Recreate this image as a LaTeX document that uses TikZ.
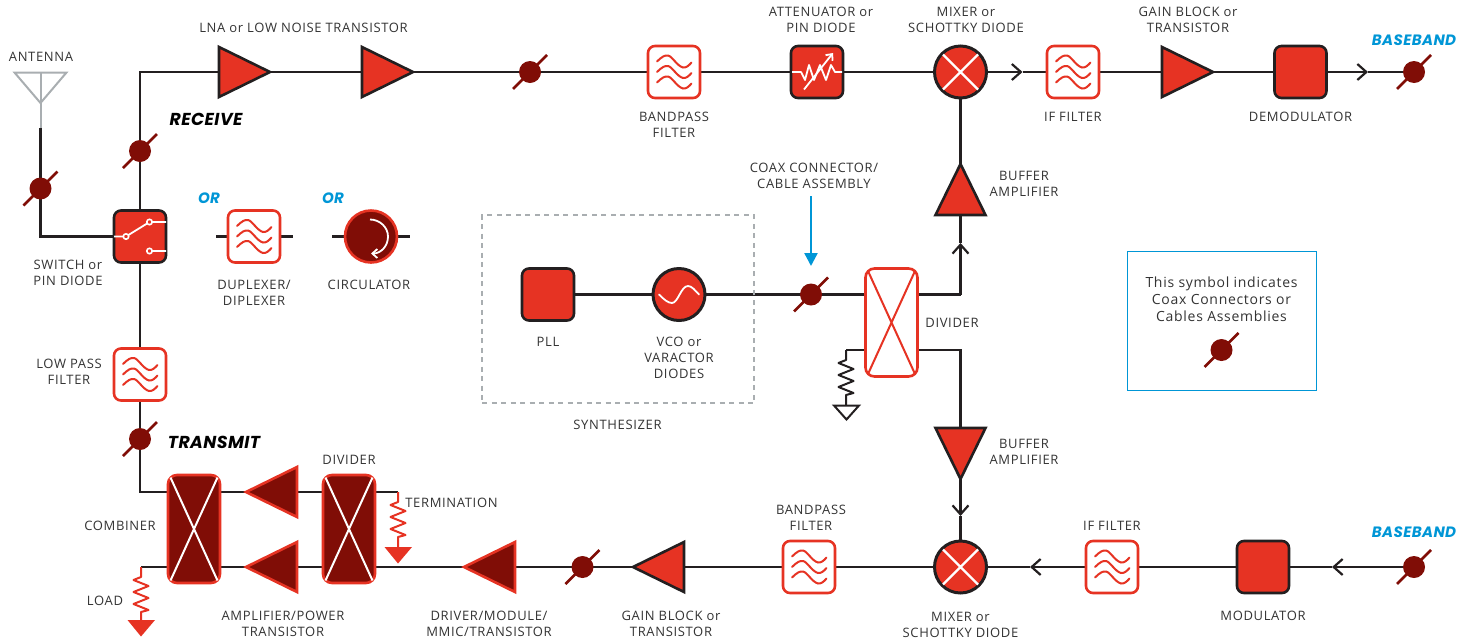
\documentclass[tikz,border=0pt]{standalone}
\usepackage{fontspec}
\setmainfont{Open Sans}[LetterSpace=5]
\newfontfamily\headfont{Poppins}[LetterSpace=2.5]
\usetikzlibrary{shapes.geometric,arrows.meta,backgrounds,calc}
\definecolor{ink}{HTML}{231F20}
\definecolor{txt}{HTML}{333333}
\definecolor{rfred}{HTML}{E63323}
\definecolor{dred}{HTML}{800D06}
\definecolor{rfblue}{HTML}{0096D6}
\definecolor{antgray}{HTML}{A9AEB1}
\tikzset{
  x=1pt,y=-1pt,
  every node/.style={inner sep=0pt,outer sep=0pt},
  lbl/.style={text=txt,align=center,font=\fontsize{13}{16}\selectfont},
  rx/.style={text=black,font=\headfont\fontsize{17.3}{18}\selectfont\bfseries\itshape},
  bb/.style={text=rfblue,font=\headfont\fontsize{15}{16}\selectfont\bfseries\itshape},
  wire/.style={draw=ink,line width=2.2pt},
  chev/.style={wire,-{Straight Barb[length=9pt,width=16pt,line width=2.2pt]}},
  boxbase/.style={rectangle,rounded corners=7pt,minimum size=52pt,line width=2.6pt},
  darkbox/.style={boxbase,draw=ink,fill=rfred},
  filtbox/.style={boxbase,draw=rfred,fill=white},
  rnd/.style={circle,minimum size=52pt,line width=3pt,draw=ink,fill=rfred},
  coax/.style={circle,minimum size=22pt,fill=dred},
  amp/.style={isosceles triangle,isosceles triangle apex angle=53,isosceles triangle stretches,minimum height=51pt,minimum width=50pt,line width=2.6pt,draw=ink,fill=rfred,anchor=apex},
  damp/.style={amp,draw=rfred,fill=dred},
  tallbox/.style={rectangle,rounded corners=9pt,minimum width=52pt,minimum height=108pt,line width=2.6pt}
}
\newcommand{\waves}[2]{\begin{scope}[shift={(#1,#2)}]
  \foreach \d in {-10.5,0,10.5}
    \draw[rfred,line width=2pt,line cap=round,yshift=-\d pt] (-17,0) .. controls (-12,-5) and (-9,-6.5) .. (-6,-6) .. controls (-2,-5.5) and (3,4.5) .. (9,6) .. controls (12,6.5) and (15,4) .. (17.5,1);
\end{scope}}
\newcommand{\filt}[3]{\node[filtbox] (#1) at (#2,#3) {};\waves{#2}{#3}}
\newcommand{\cx}[3]{\node[coax] (#1) at (#2,#3) {};\draw[dred,line width=2.6pt] ($(#2,#3)+(-17,17)$) -- ($(#2,#3)+(17,-17)$);}
\newcommand{\mixer}[3]{\node[rnd] (#1) at (#2,#3) {};
  \begin{scope}[shift={(#2,#3)}]\draw[white,line width=2.4pt] (-17.5,-17.5) -- (17.5,17.5) (-17.5,17.5) -- (17.5,-17.5);\end{scope}}
\newcommand{\tallcross}[5]{\node[tallbox,draw=rfred,fill=#4] (#1) at (#2,#3) {};
  \begin{scope}[shift={(#2,#3)}]\draw[#5,line width=2pt] (-23.5,-51.5) -- (23.5,51.5) (-23.5,51.5) -- (23.5,-51.5);\end{scope}}
\newcommand{\resist}[4]{\begin{scope}[shift={(#2,#3)}]
  \coordinate (#1) at (0,0);
  \draw[#4,line width=2pt,line join=round] (0,0) -- (0,10) -- (-7.5,13) -- (7.5,19) -- (-7.5,25) -- (7.5,31) -- (-7.5,37) -- (7.5,43) -- (0,45) -- (0,55);
\end{scope}}
\begin{document}
\begin{tikzpicture}
\useasboundingbox (0,0) rectangle (1469,638);
% ---- nodes: top row
\draw[antgray,line width=2pt,line join=miter] (14.5,72.5) -- (66.5,72.5) -- (40.5,103) -- cycle;
\draw[antgray,line width=2pt] (40.5,72.5) -- (40.5,128);
\coordinate (anttop) at (40.5,128);
\cx{cxa}{40.5}{188.5}
\node[darkbox] (sw) at (140,236.5) {};
\begin{scope}[shift={(140,236.5)}]
  \draw[white,line width=1.8pt] (-26,0) -- (-14,0) (-14,0) -- (9.5,-14.5) (9.5,-14.5) -- (26,-14.5) (9.5,14.5) -- (26,14.5);
  \foreach \p in {(-14,0),(9.5,-14.5),(9.5,14.5)} \draw[white,fill=rfred,line width=1.6pt] \p circle[radius=2.7];
\end{scope}
\cx{cxb}{140}{151}
\node[amp] (lna1) at (270,72) {};
\node[amp] (lna2) at (413,72) {};
\cx{cxc}{530}{72}
\filt{bpf1}{674}{72}
\node[darkbox] (att) at (817,72) {};
\begin{scope}[shift={(817,72)}]
  \draw[white,line width=1.8pt,line join=round] (-25,0) -- (-16,0) -- (-12,8) -- (-8,-7) -- (-3,8) -- (3,-7) -- (9,8) -- (14,-7) -- (18,0) -- (25,0);
  \draw[white,line width=1.8pt,-{Straight Barb[length=5pt,width=9pt]}] (-13,17.5) -- (16,-19);
\end{scope}
\mixer{mix1}{960.5}{72}
\coordinate (ah1) at (1022.5,72);
\filt{iff1}{1073}{72}
\node[amp] (gb1) at (1213,72) {};
\node[darkbox] (demod) at (1300.5,72) {};
\coordinate (ah2) at (1368,72);
\cx{cxd}{1414}{72}
% ---- alternatives
\coordinate (dupl) at (216,236.5);\coordinate (dupr) at (293,236.5);
\filt{dup}{254}{236.5}
\coordinate (cirl) at (332,236.5);\coordinate (cirr) at (410,236.5);
\node[circle,minimum size=52pt,line width=2.6pt,draw=rfred,fill=dred] (circ) at (371,236.5) {};
\draw[white,line width=1.8pt,-{Straight Barb[length=5pt,width=9pt]}] (370,219.5) .. controls (379.5,219.5) and (388,227) .. (388,236.5) .. controls (388,246) and (381,253.5) .. (371,253.5);
% ---- synthesizer
\node[rectangle,draw=antgray,line width=2pt,dash pattern=on 5pt off 4.5pt,minimum width=272pt,minimum height=188pt] (syn) at (618,309) {};
\node[darkbox] (pll) at (548,294.5) {};
\node[rnd] (vco) at (679,294.5) {};
\begin{scope}[shift={(679,294.5)}]
  \draw[white,line width=1.8pt,line cap=round] (-20,0) .. controls (-15,5) and (-11,8.5) .. (-7,8.5) .. controls (-1,8.5) and (2,-8.5) .. (9,-8.5) .. controls (13,-8.5) and (16,-4) .. (20,0);
\end{scope}
\cx{cxe}{811}{294.5}
\tallcross{div1}{891.5}{322.5}{white}{rfred}
\node[amp,shape border rotate=90] (buf1) at (960.5,164) {};
\coordinate (ah3) at (960.5,243);
\coordinate (c1) at (960.5,294.5);
\coordinate (c2) at (960.5,350);
\node[amp,shape border rotate=270] (buf2) at (960.5,479) {};
\coordinate (ah4) at (960.5,516);
\mixer{mix2}{960.5}{567}
\coordinate (rs) at (846,350);
\resist{r1}{846}{350}{ink}
\draw[ink,line width=2pt,line join=miter] (834,405.5) -- (859,405.5) -- (846.5,419.5) -- cycle;
% ---- bottom row
\coordinate (ah5) at (1030,567);
\coordinate (ah6) at (1332,567);
\filt{iff2}{1112}{567}
\node[darkbox] (mod) at (1263,567) {};
\cx{cxf}{1414}{567}
\filt{bpf2}{809}{567}
\node[amp,shape border rotate=180] (gb2) at (633,567) {};
\cx{cxg}{582.5}{567}
\node[damp,shape border rotate=180] (drv) at (464,567) {};
\tallcross{div2}{349}{529}{dred}{white}
\node[damp,shape border rotate=180] (pa1) at (246,492) {};
\node[damp,shape border rotate=180] (pa2) at (246,567) {};
\tallcross{comb}{194}{529}{dred}{white}
\filt{lpf}{140}{374.5}
\cx{cxh}{140}{439}
\coordinate (tc) at (398,492);
\resist{r2}{398}{492}{rfred}
\fill[rfred] (384.5,547) -- (412,547) -- (398,563.5) -- cycle;
\coordinate (lc) at (141,567);
\resist{r3}{141}{567}{rfred}
\fill[rfred] (127.5,620) -- (155,620) -- (141,636.5) -- cycle;
% ---- legend
\node[rectangle,draw=rfblue,line width=1pt,minimum width=189pt,minimum height=139pt] (leg) at (1221.5,320.5) {};
\cx{cxl}{1221.5}{350}
% ---- connectors
\begin{pgfonlayer}{background}
\draw[wire] (anttop) -- (cxa.center) |- (sw.center);
\draw[wire] (sw.center) -- (cxb.center) |- (lna1.apex);
\draw[wire] (lna1.apex) -- (lna2.apex) -- (cxc.center) -- (bpf1.center) -- (att.center) -- (mix1.center);
\draw[chev] (mix1.center) -- (ah1);
\draw[wire] (ah1) -- (iff1.center) -- (gb1.apex) -- (demod.center);
\draw[chev] (demod.center) -- (ah2);
\draw[wire] (ah2) -- (cxd.center);
\draw[wire] (dupl) -- (dupr);
\draw[wire] (cirl) -- (cirr);
\draw[wire] (pll.center) -- (vco.center) -- (cxe.center) -- (cxe.center -| div1.center);
\draw[wire] (mix1.center) -- (buf1.apex);
\draw[chev] (c1) -- (ah3);
\draw[wire] (ah3) -- (buf1.apex);
\draw[wire] (div1.center |- c1) -- (c1);
\draw[wire] (div1.center |- c2) -- (c2) -- (buf2.apex);
\draw[wire] (div1.center |- c2) -- (rs);
\draw[chev] (buf2.apex) -- (ah4);
\draw[wire] (ah4) -- (mix2.center);
\draw[chev] (cxf.center) -- (ah6);
\draw[wire] (ah6) -- (mod.center) -- (iff2.center);
\draw[chev] (iff2.center) -- (ah5);
\draw[wire] (ah5) -- (mix2.center) -- (bpf2.center) -- (gb2.apex) -- (cxg.center) -- (drv.apex) -- (div2.center |- drv.apex) -- (pa2.apex) -- (comb.center |- pa2.apex) -- (lc);
\draw[wire] (div2.center |- tc) -- (pa1.apex) -- (comb.center |- tc);
\draw[wire] (div2.center |- tc) -- (tc);
\draw[wire] (sw.center) -- (lpf.center) -- (cxh.center) |- (comb.center |- tc);
\end{pgfonlayer}
\draw[rfblue,line width=2.4pt,-{Triangle[length=13pt,width=13pt]}] (811,196) -- (cxe.center |- 0,266);
% ---- labels
\node[lbl] (t1) at (41,57) {ANTENNA};
\node[lbl] (t2) at (303.5,28) {LNA or LOW NOISE TRANSISTOR};
\node[lbl] (t3) at (674,125) {BANDPASS\\FILTER};
\node[lbl] (t4) at (821,20) {ATTENUATOR or\\PIN DIODE};
\node[lbl] (t5) at (966,20) {MIXER or\\SCHOTTKY DIODE};
\node[lbl] (t6) at (1073,117) {IF FILTER};
\node[lbl] (t7) at (1188,20) {GAIN BLOCK or\\TRANSISTOR};
\node[lbl] (t8) at (1300.5,117) {DEMODULATOR};
\node[bb] (t9) at (1414,40) {BASEBAND};
\node[rx] (t10) at (206,119) {RECEIVE};
\node[lbl] (t11) at (68,273) {SWITCH or\\PIN DIODE};
\node[bb] (t12) at (209,198) {OR};
\node[bb] (t13) at (333,198) {OR};
\node[lbl] (t14) at (254,293) {DUPLEXER/\\DIPLEXER};
\node[lbl] (t15) at (369,285) {CIRCULATOR};
\node[lbl] (t16) at (69,372) {LOW PASS\\FILTER};
\node[rx] (t17) at (214,442) {TRANSMIT};
\node[lbl] (t18) at (814,176) {COAX CONNECTOR/\\CABLE ASSEMBLY};
\node[lbl] (t19) at (1024,184) {BUFFER\\AMPLIFIER};
\node[lbl] (t20) at (548,342) {PLL};
\node[lbl] (t21) at (679,358) {VCO or\\VARACTOR\\DIODES};
\node[lbl] (t22) at (617.5,425) {SYNTHESIZER};
\node[lbl] (t23) at (952,323) {DIVIDER};
\node[lbl] (t24) at (1024,452) {BUFFER\\AMPLIFIER};
\node[lbl] (t25) at (349,460) {DIVIDER};
\node[lbl] (t26) at (451.5,503) {TERMINATION};
\node[lbl] (t27) at (120,526) {COMBINER};
\node[lbl] (t28) at (105,601) {LOAD};
\node[lbl] (t29) at (283,624) {AMPLIFIER/POWER\\TRANSISTOR};
\node[lbl] (t30) at (489,624) {DRIVER/MODULE/\\MMIC/TRANSISTOR};
\node[lbl] (t31) at (671,624) {GAIN BLOCK or\\TRANSISTOR};
\node[lbl] (t32) at (811,518) {BANDPASS\\FILTER};
\node[lbl] (t33) at (960.5,625) {MIXER or\\SCHOTTKY DIODE};
\node[lbl] (t34) at (1112,526) {IF FILTER};
\node[lbl] (t35) at (1263,616) {MODULATOR};
\node[bb] (t36) at (1414,532) {BASEBAND};
\node[lbl,font=\fontsize{14}{17}\selectfont] (t37) at (1221.5,299) {This symbol indicates\\Coax Connectors or\\Cables Assemblies};
\end{tikzpicture}
\end{document}
